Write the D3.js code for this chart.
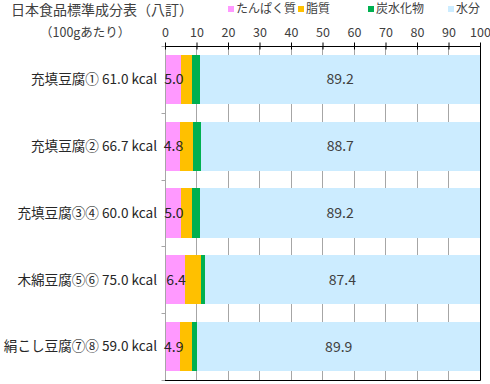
<!DOCTYPE html>
<html>
<head>
<meta charset="utf-8">
<script src="https://cdn.jsdelivr.net/npm/d3@7"></script>
<style>
  body { margin: 0; background: #fff; }
  text { font-family: "Noto Sans CJK JP", "Noto Sans", sans-serif; }
</style>
</head>
<body>
<script>
// données
const categories = ["充填豆腐① 61.0 kcal", "充填豆腐② 66.7 kcal", "充填豆腐③④ 60.0 kcal", "木綿豆腐⑤⑥ 75.0 kcal", "絹こし豆腐⑦⑧ 59.0 kcal"]
const seriesNames = ["たんぱく質", "脂質", "炭水化物", "水分"]
const protein = [5.0, 4.8, 5.0, 6.4, 4.9]
const fat = [3.5, 4.0, 3.5, 4.9, 3.8]
const carbs = [2.5, 2.5, 2.5, 1.3, 1.5]
const water = [89.2, 88.7, 89.2, 87.4, 89.9]
const ticks = [0, 10, 20, 30, 40, 50, 60, 70, 80, 90, 100]
const colors = ["#FF99FF", "#FFC000", "#00B050", "#CCECFF"]

const rows = categories.map((c, i) => ({cat: c, "たんぱく質": protein[i], "脂質": fat[i], "炭水化物": carbs[i], "水分": water[i]}))

const W = 490, H = 384
const svg = d3.select("body").append("svg").attr("width", W).attr("height", H)

const x = d3.scaleLinear().domain([0, 100]).range([165, 480])
const y = d3.scaleBand().domain(categories).range([46, 380]).paddingInner(0.265).paddingOuter(0.1325)

// titre + légende
svg.append("text").text("日本食品標準成分表（八訂）")
    .attr("x", 11).attr("y", 15).attr("font-size", 14).attr("fill", "#404040")
svg.append("text").text("（100gあたり）")
    .attr("x", 40).attr("y", 37).attr("font-size", 12.5).attr("fill", "#404040")

const legX = [228, 298, 368, 448]
const leg = svg.selectAll(".leg").data(seriesNames).enter().append("g").attr("class", "leg")
    .attr("transform", (d, i) => `translate(${legX[i]},0)`)
leg.append("rect").attr("x", 0).attr("y", 6).attr("width", 6).attr("height", 6)
    .attr("fill", (d, i) => colors[i])
leg.append("text").text(d => d).attr("x", 8).attr("y", 13)
    .attr("font-size", 12).attr("fill", "#404040")

// grille verticale
svg.append("g").selectAll("line").data(ticks.slice(1, -1)).enter().append("line")
    .attr("x1", d => x(d)).attr("x2", d => x(d))
    .attr("y1", 46).attr("y2", 380)
    .attr("stroke", "#A6A6A6").attr("stroke-width", 1).attr("shape-rendering", "crispEdges")

// barres empilées
svg.append("clipPath").attr("id", "plot").append("rect")
    .attr("x", 165).attr("y", 46).attr("width", 315).attr("height", 334)
const stacked = d3.stack().keys(seriesNames)(rows)
svg.append("g").attr("clip-path", "url(#plot)")
    .selectAll("g").data(stacked).enter().append("g")
    .attr("fill", (d, i) => colors[i])
    .selectAll("rect").data(d => d).enter().append("rect")
    .attr("x", d => x(d[0]))
    .attr("width", d => x(d[1]) - x(d[0]))
    .attr("y", d => y(d.data.cat))
    .attr("height", y.bandwidth())
    .attr("shape-rendering", "crispEdges")

// axe des catégories (gris)
const yAxis = svg.append("g").attr("transform", "translate(165.5,0)")
yAxis.append("line").attr("y1", 46).attr("y2", 380).attr("stroke", "#A6A6A6")
const bounds = categories.map(c => y(c) - y.step() * y.paddingInner() / 2).concat([380])
yAxis.selectAll(".tk").data(bounds).enter().append("line").attr("class", "tk")
    .attr("x1", -4).attr("x2", 0)
    .attr("y1", d => Math.round(d) + 0.5).attr("y2", d => Math.round(d) + 0.5)
    .attr("stroke", "#A6A6A6")
svg.selectAll(".catlab").data(categories).enter().append("text").attr("class", "catlab")
    .text(d => d)
    .attr("x", 157).attr("y", d => y(d) + y.bandwidth() / 2)
    .attr("dy", "0.35em").attr("text-anchor", "end")
    .attr("font-size", 13.6).attr("fill", "#262626")

// cadre noir : haut, droite, bas
svg.append("path").attr("d", "M165,46.5H480.5V380.5H165")
    .attr("fill", "none").attr("stroke", "#000")

// axe des valeurs en haut
const xAxis = d3.axisTop(x).tickValues(ticks).tickSize(3).tickSizeInner(7).tickPadding(6)
const gx = svg.append("g").attr("transform", "translate(0,49.5)").call(xAxis)
gx.select(".domain").remove()
gx.selectAll(".tick line").attr("stroke", "#000")
gx.selectAll(".tick text").attr("font-size", 12.5).attr("fill", "#404040")
    .attr("font-family", '"Noto Sans CJK JP", sans-serif')

// étiquettes de données
svg.append("g").selectAll("text").data(stacked[0]).enter().append("text")
    .text(d => (d[1] - d[0]).toFixed(1))
    .attr("x", d => (x(d[0]) + x(d[1])) / 2 + 1)
    .attr("y", d => y(d.data.cat) + y.bandwidth() / 2)
    .attr("dy", "0.35em").attr("text-anchor", "middle")
    .attr("font-size", 14).attr("fill", "#262626")
svg.append("g").selectAll("text").data(stacked[3]).enter().append("text")
    .text(d => (d[1] - d[0]).toFixed(1))
    .attr("x", d => (x(d[0]) + x(d[1])) / 2)
    .attr("y", d => y(d.data.cat) + y.bandwidth() / 2)
    .attr("dy", "0.35em").attr("text-anchor", "middle")
    .attr("font-size", 14).attr("fill", "#404040")
</script>
</body>
</html>
